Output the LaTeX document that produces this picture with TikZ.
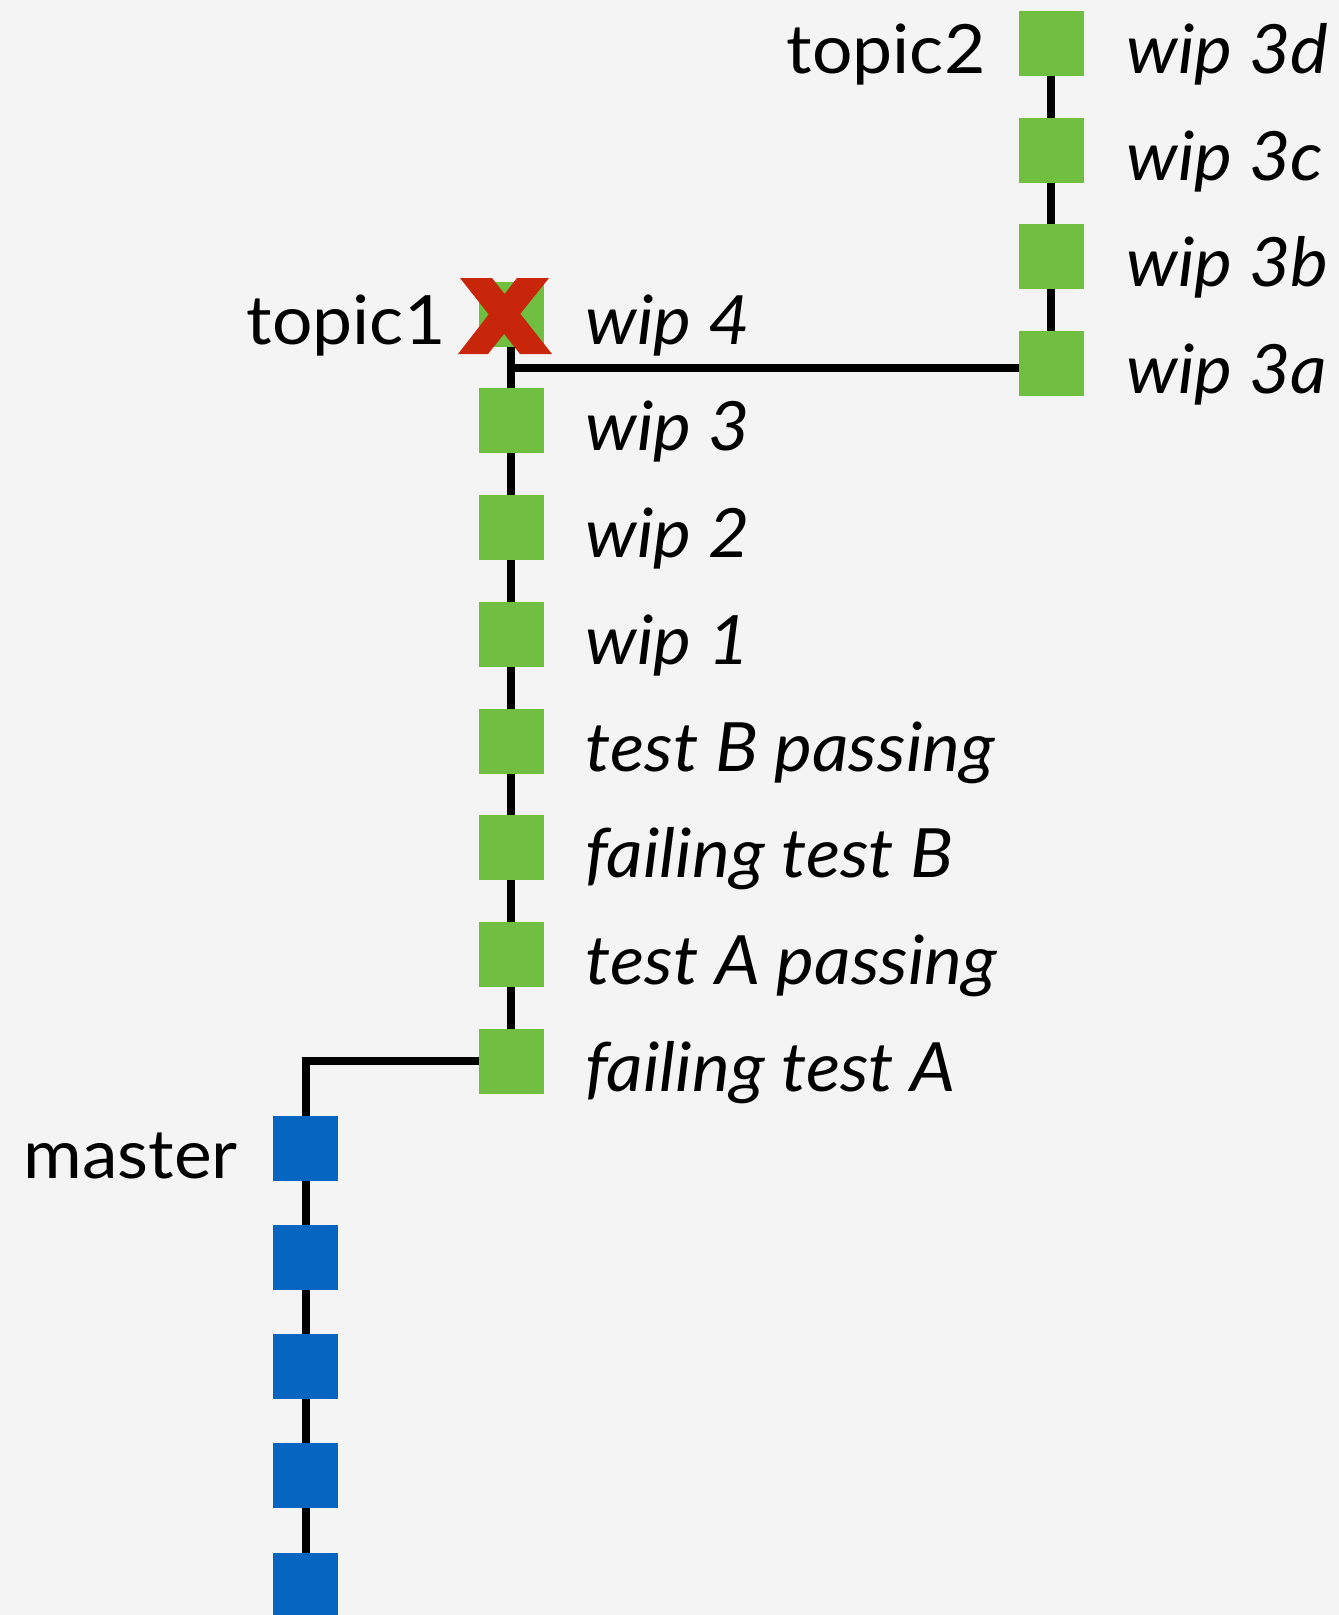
\documentclass[tikz,border=0pt]{standalone}
\usepackage{fontspec}
\setmainfont{Lato}[FakeStretch=1.05]
\definecolor{bgc}{HTML}{F4F4F4}
\definecolor{gitgreen}{HTML}{70BF41}
\definecolor{gitblue}{HTML}{0565C0}
\definecolor{xred}{HTML}{C8260A}
\tikzset{
  commit/.style={minimum size=65pt, inner sep=0pt, outer sep=0pt},
  gc/.style={commit, fill=gitgreen},
  bc/.style={commit, fill=gitblue},
  link/.style={line width=8pt, black},
  msg/.style={anchor=base west, inner sep=0pt, font=\fontsize{68}{74}\selectfont\itshape},
  ref/.style={anchor=base east, inner sep=0pt, font=\fontsize{68}{74}\selectfont},
}
\begin{document}
\begin{tikzpicture}[x=1pt,y=-1pt]
\fill[bgc] (0,0) rectangle (1339,1615);
\useasboundingbox (0,0) rectangle (1339,1615);
\clip (0,0) rectangle (1339,1615);
% topic2 commits
\node[gc] (w3d) at (1051,43.3) {};
\node[gc] (w3c) at (1051,150) {};
\node[gc] (w3b) at (1051,256.7) {};
\node[gc] (w3a) at (1051,363.3) {};
% topic1 commits
\node[gc] (w4) at (511,314) {};
\node[gc] (w3) at (511,420.8) {};
\node[gc] (w2) at (511,527.5) {};
\node[gc] (w1) at (511,634.3) {};
\node[gc] (tbp) at (511,741) {};
\node[gc] (ftb) at (511,847.8) {};
\node[gc] (tap) at (511,954.6) {};
\node[gc] (fta) at (511,1061.3) {};
% master commits
\node[bc] (m1) at (305.5,1148.3) {};
\node[bc] (m2) at (305.5,1257.5) {};
\node[bc] (m3) at (305.5,1366.7) {};
\node[bc] (m4) at (305.5,1475.9) {};
\node[bc] (m5) at (305.5,1585.1) {};
% connectors
\draw[link] (w3d) -- (w3c) -- (w3b) -- (w3a);
\draw[link] (w4) -- (w3) -- (w2) -- (w1) -- (tbp) -- (ftb) -- (tap) -- (fta);
\coordinate (j) at (511,368);
\draw[link] (j) -- (j -| w3a.west);
\draw[link] (fta.west) -| (m1.north);
\draw[link] (m1) -- (m2) -- (m3) -- (m4) -- (m5);
% messages
\node[msg] (l3d) at ([shift={(43,30)}]w3d.east) {wip 3d};
\node[msg] (l3c) at ([shift={(43,30)}]w3c.east) {wip 3c};
\node[msg] (l3b) at ([shift={(43,30)}]w3b.east) {wip 3b};
\node[msg] (l3a) at ([shift={(43,30)}]w3a.east) {wip 3a};
\node[msg] (l4) at ([shift={(42,30)}]w4.east) {wip 4};
\node[msg] (l3) at ([shift={(42,30)}]w3.east) {wip 3};
\node[msg] (l2) at ([shift={(42,30)}]w2.east) {wip 2};
\node[msg] (l1) at ([shift={(42,30)}]w1.east) {wip 1};
\node[msg] (ltbp) at ([shift={(42,30)}]tbp.east) {test B passing};
\node[msg] (lftb) at ([shift={(42,30)}]ftb.east) {failing test B};
\node[msg] (ltap) at ([shift={(42,30)}]tap.east) {test A passing};
\node[msg] (lfta) at ([shift={(42,30)}]fta.east) {failing test A};
% branch names
\node[ref] (rt2) at ([shift={(-33,30)}]w3d.west) {topic2};
\node[ref] (rt1) at ([shift={(-33,30)}]w4.west) {topic1};
\node[ref] (rm) at ([shift={(-35,30)}]m1.west) {master};
% red cross over topic1
\fill[xred] (460,278) -- (492,278) -- (504.6,294) -- (517,278) -- (549,278)
  -- (520.3,313.8) -- (552,354) -- (520,354) -- (504.1,333.9) -- (488,354)
  -- (458,354) -- (488.7,314.4) -- cycle;
\end{tikzpicture}
\end{document}
